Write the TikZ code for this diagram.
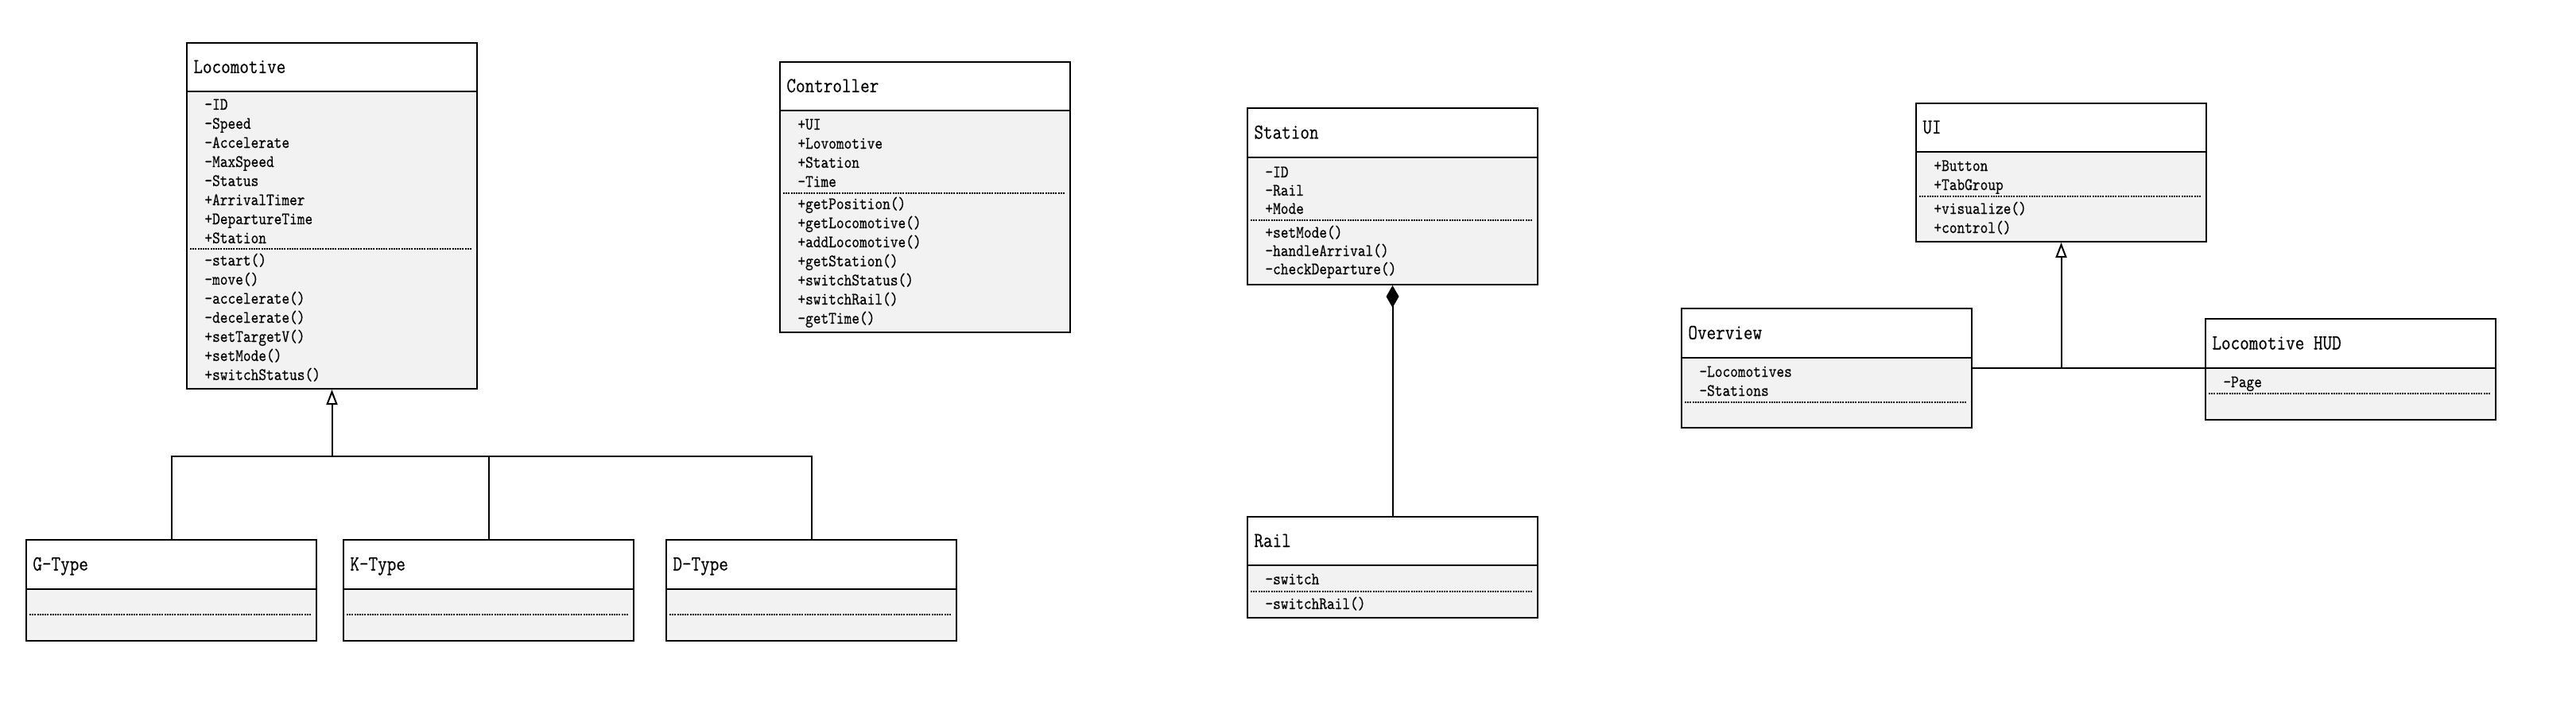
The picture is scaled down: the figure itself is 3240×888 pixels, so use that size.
\documentclass[tikz,border=0pt]{standalone}
\usepackage{fontspec}
\newfontfamily\umlfont{Latin Modern Mono}[FakeStretch=0.84, FakeBold=0.3]
\usetikzlibrary{arrows.meta}
\definecolor{bodygray}{HTML}{F2F2F2}
\tikzset{
  classbox/.style={draw=black, line width=1pt, minimum width=182.5pt, inner sep=0pt},
  headsep/.style={line width=1pt},
  dotsep/.style={line width=0.55pt, dash pattern=on 1pt off 0.6pt, draw=black},
  titletext/.style={font=\umlfont\fontsize{13.4}{15}\selectfont, inner sep=0pt, anchor=base west},
  bodytext/.style={font=\umlfont\fontsize{11}{12}\selectfont, inner sep=0pt, anchor=base west},
  link/.style={line width=1pt, draw=black},
  inherit/.style={link, -{Triangle[open, length=9.5pt, width=7pt]}},
  compose/.style={link, -{Diamond[length=14pt, width=8pt]}},
}
% name, x, top, header bottom, dotted line, bottom, title
\newcommand{\umlclass}[7]{%
  \fill[white] (#2,#3) rectangle (#2+365,#4);
  \fill[bodygray] (#2,#4) rectangle (#2+365,#6);
  \draw[headsep] (#2,#4) -- (#2+365,#4);
  \draw[dotsep] (#2+5,#5) -- (#2+360,#5);
  \node[classbox, anchor=north west, minimum height={(#6-#3)*0.5pt}] (#1) at (#2,#3) {};
  \node[titletext] (#1-title) at (#2+9,{(#3+#4)/2+8}) {#7};
}
% name, tag, x, first line centre, pitch, list
\newcommand{\umllines}[6]{%
  \foreach \t [count=\i] in {#6}
    \node[bodytext] (#1-#2\i) at (#3+23,{#4+#5*(\i-1)+6}) {\t};
}
\begin{document}
\begin{tikzpicture}[x=0.5pt, y=-0.5pt]
\fill[white] (0,0) rectangle (3240,888);
\useasboundingbox (0,0) rectangle (3240,888);

% Locomotive
\umlclass{loco}{234}{53}{115}{313}{488}{Locomotive}
\umllines{loco}{a}{234}{132}{24}{-ID,-Speed,-Accelerate,-MaxSpeed,-Status,+ArrivalTimer,+DepartureTime,+Station}
\umllines{loco}{m}{234}{328}{24}{-start(),-move(),-accelerate(),-decelerate(),+setTargetV(),+setMode(),+switchStatus()}

% Controller
\umlclass{ctrl}{980}{77}{139}{243}{417}{Controller}
\umllines{ctrl}{a}{980}{157}{24}{+UI,+Lovomotive,+Station,-Time}
\umllines{ctrl}{m}{980}{257}{24}{+getPosition(),+getLocomotive(),+addLocomotive(),+getStation(),+switchStatus(),+switchRail(),-getTime()}

% Station
\umlclass{station}{1568}{135}{198}{277}{357}{Station}
\umllines{station}{a}{1568}{217}{23}{-ID,-Rail,+Mode}
\umllines{station}{m}{1568}{293}{23}{+setMode(),-handleArrival(),-checkDeparture()}

% Rail
\umlclass{rail}{1568}{649}{711}{744}{776}{Rail}
\umllines{rail}{a}{1568}{729}{24}{-switch}
\umllines{rail}{m}{1568}{760}{24}{-switchRail()}

% UI
\umlclass{ui}{2409}{129}{191}{247}{303}{UI}
\umllines{ui}{a}{2409}{209}{24}{+Button,+TabGroup}
\umllines{ui}{m}{2409}{263}{24}{+visualize(),+control()}

% Overview
\umlclass{overview}{2114}{387}{450}{506}{537}{Overview}
\umllines{overview}{a}{2114}{468}{24}{-Locomotives,-Stations}

% Locomotive HUD
\umlclass{hud}{2773}{400}{463}{495}{527}{Locomotive HUD}
\umllines{hud}{a}{2773}{481}{24}{-Page}

% Subclasses
\umlclass{gtype}{32}{678}{741}{773}{805}{G-Type}
\umlclass{ktype}{431}{678}{741}{773}{805}{K-Type}
\umlclass{dtype}{837}{678}{741}{773}{805}{D-Type}

% Generalisation Locomotive
\coordinate (lbar) at (0,574);
\draw[link] (gtype.north) -- (gtype.north |- lbar) -- (dtype.north |- lbar) -- (dtype.north);
\draw[link] (ktype.north) -- (ktype.north |- lbar);
\draw[inherit] (loco.south |- lbar) -- (loco.south);

% Composition Station - Rail
\draw[compose] (rail.north) -- (station.south);

% Generalisation UI
\coordinate (uij) at (ui.south |- overview.east);
\draw[link] (overview.east) -- (uij) -- (uij -| hud.west);
\draw[inherit] (uij) -- (ui.south);
\end{tikzpicture}
\end{document}
